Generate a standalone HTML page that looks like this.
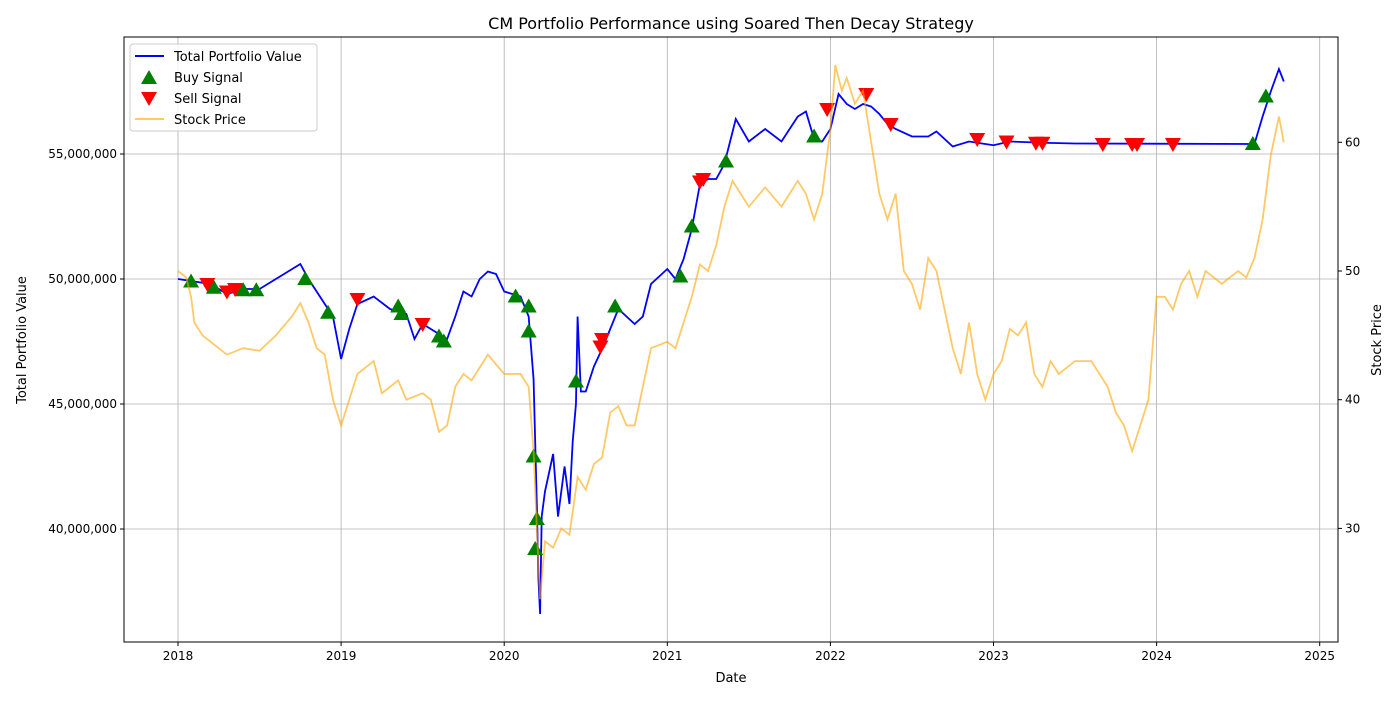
<!DOCTYPE html>
<html><head><meta charset="utf-8"><style>
body{margin:0;background:#fff;font-family:"DejaVu Sans","Liberation Sans",sans-serif}
svg text{font-family:"DejaVu Sans","Liberation Sans",sans-serif}
</style></head><body>
<svg id="chart" width="1400" height="700" xmlns="http://www.w3.org/2000/svg">
<text x="731" y="29" font-size="16" text-anchor="middle">CM Portfolio Performance using Soared Then Decay Strategy</text>
<g id="grid"></g><g id="series"></g><g id="axes"></g>
<text x="731" y="682" font-size="13" text-anchor="middle">Date</text>
<text transform="translate(26,340) rotate(-90)" font-size="13" text-anchor="middle">Total Portfolio Value</text>
<text transform="translate(1381,340) rotate(-90)" font-size="13" text-anchor="middle">Stock Price</text>
<g>
<rect x="130" y="44" width="187" height="87" rx="3" fill="#fff" fill-opacity="0.8" stroke="#ccc"/>
<line x1="135" y1="56" x2="164" y2="56" stroke="#0000ff" stroke-width="2"/>
<text x="174" y="61" font-size="13">Total Portfolio Value</text>
<path d="M149,70 L157,84 L141,84Z" fill="green"/>
<text x="174" y="82" font-size="13">Buy Signal</text>
<path d="M141,92 L157,92 L149,106Z" fill="red"/>
<text x="174" y="103" font-size="13">Sell Signal</text>
<line x1="135" y1="119" x2="164" y2="119" stroke="orange" stroke-opacity="0.6" stroke-width="2"/>
<text x="174" y="124" font-size="13">Stock Price</text>
</g>
</svg>
<script>
const pT=[2018.0,2018.1,2018.2,2018.3,2018.4,2018.5,2018.6,2018.7,2018.75,2018.8,2018.9,2018.95,2019.0,2019.05,2019.1,2019.2,2019.3,2019.4,2019.45,2019.5,2019.6,2019.65,2019.7,2019.75,2019.8,2019.85,2019.9,2019.95,2020.0,2020.05,2020.1,2020.15,2020.18,2020.2,2020.21,2020.22,2020.23,2020.25,2020.3,2020.33,2020.37,2020.4,2020.42,2020.44,2020.45,2020.47,2020.5,2020.55,2020.6,2020.65,2020.7,2020.8,2020.85,2020.9,2021.0,2021.05,2021.1,2021.15,2021.2,2021.25,2021.3,2021.35,2021.42,2021.5,2021.6,2021.7,2021.8,2021.85,2021.9,2021.95,2022.0,2022.05,2022.1,2022.15,2022.2,2022.25,2022.3,2022.35,2022.4,2022.5,2022.6,2022.65,2022.75,2022.85,2022.95,2023.0,2023.1,2023.3,2023.5,2024.6,2024.65,2024.7,2024.75,2024.78];
const pV=[50.0,49.9,49.8,49.4,49.6,49.6,50.0,50.4,50.6,50.0,49.0,48.5,46.8,48.0,49.0,49.3,48.8,48.6,47.6,48.2,47.8,47.6,48.5,49.5,49.3,50.0,50.3,50.2,49.5,49.4,49.3,48.5,46.0,41.0,38.0,36.6,40.5,41.5,43.0,40.5,42.5,41.0,43.5,45.0,48.5,45.5,45.5,46.5,47.2,48.0,48.8,48.2,48.5,49.8,50.4,50.0,50.8,52.0,53.8,54.0,54.0,54.6,56.4,55.5,56.0,55.5,56.5,56.7,55.6,55.5,56.0,57.4,57.0,56.8,57.0,56.9,56.6,56.2,56.0,55.7,55.7,55.9,55.3,55.5,55.4,55.35,55.5,55.45,55.42,55.4,56.5,57.5,58.4,57.9];
const sT=[2018.0,2018.05,2018.08,2018.1,2018.15,2018.2,2018.3,2018.4,2018.5,2018.6,2018.7,2018.75,2018.8,2018.85,2018.9,2018.95,2019.0,2019.05,2019.1,2019.2,2019.25,2019.35,2019.4,2019.5,2019.55,2019.6,2019.65,2019.7,2019.75,2019.8,2019.9,2020.0,2020.1,2020.15,2020.18,2020.2,2020.22,2020.25,2020.3,2020.35,2020.4,2020.45,2020.5,2020.55,2020.6,2020.65,2020.7,2020.75,2020.8,2020.85,2020.9,2021.0,2021.05,2021.1,2021.15,2021.2,2021.25,2021.3,2021.35,2021.4,2021.5,2021.6,2021.7,2021.8,2021.85,2021.9,2021.95,2022.0,2022.03,2022.07,2022.1,2022.15,2022.2,2022.25,2022.3,2022.35,2022.4,2022.45,2022.5,2022.55,2022.6,2022.65,2022.7,2022.75,2022.8,2022.85,2022.9,2022.95,2023.0,2023.05,2023.1,2023.15,2023.2,2023.25,2023.3,2023.35,2023.4,2023.5,2023.6,2023.7,2023.75,2023.8,2023.85,2023.9,2023.95,2024.0,2024.05,2024.1,2024.15,2024.2,2024.25,2024.3,2024.4,2024.5,2024.55,2024.6,2024.65,2024.7,2024.75,2024.78];
const sV=[50,49.5,48,46,45,44.5,43.5,44,43.8,45,46.5,47.5,46,44,43.5,40,38,40,42,43,40.5,41.5,40,40.5,40,37.5,38,41,42,41.5,43.5,42,42,41,36,30,24.5,29,28.5,30,29.5,34,33,35,35.5,39,39.5,38,38,41,44,44.5,44,46,48,50.5,50,52,55,57,55,56.5,55,57,56,54,56,61,66,64,65,63,64,60,56,54,56,50,49,47,51,50,47,44,42,46,42,40,42,43,45.5,45,46,42,41,43,42,43,43,41,39,38,36,38,40,48,48,47,49,50,48,50,49,50,49.5,51,54,59,62,60];
const buyT=[2018.08,2018.22,2018.4,2018.48,2018.78,2018.92,2019.35,2019.37,2019.6,2019.63,2020.07,2020.15,2020.15,2020.18,2020.2,2020.19,2020.44,2020.68,2021.08,2021.15,2021.36,2021.9,2024.59,2024.67];
const buyV=[49.9,49.65,49.55,49.55,50.0,48.65,48.9,48.6,47.7,47.5,49.3,48.9,47.9,42.9,40.4,39.2,45.9,48.9,50.1,52.1,54.7,55.7,55.4,57.3];
const sellT=[2018.18,2018.3,2018.35,2019.1,2019.5,2020.6,2020.59,2021.2,2021.22,2021.98,2022.22,2022.37,2022.9,2023.08,2023.26,2023.3,2023.67,2023.85,2023.88,2024.1];
const sellV=[49.8,49.5,49.6,49.2,48.2,47.6,47.3,53.9,54.0,56.8,57.4,56.2,55.6,55.5,55.45,55.45,55.4,55.4,55.4,55.4];
const xTicks=[2018,2019,2020,2021,2022,2023,2024,2025];
const yTicks=[40,45,50,55];
const yTickLabels=["40,000,000","45,000,000","50,000,000","55,000,000"];
const y2Ticks=[30,40,50,60];

const L=124,R=1338,T=37,B=642;
const x=t=>178+(t-2018)*163.1;
const y=v=>279-(v-50)*25;
const y2=v=>271-(v-50)*12.87;
const NS="http://www.w3.org/2000/svg";
function mk(tag,par,at){const e=document.createElementNS(NS,tag);for(const k in at)e.setAttribute(k,at[k]);document.getElementById(par).appendChild(e);return e;}
xTicks.forEach(t=>{const e=mk('line','grid',{x1:x(t),x2:x(t),y1:T,y2:B,stroke:'#b0b0b0','stroke-width':0.8});


mk('line','axes',{x1:x(t),x2:x(t),y1:B,y2:B+4,stroke:'#000'});
const tx=mk('text','axes',{x:x(t),y:B+18,'font-size':12,'text-anchor':'middle'});tx.textContent=t;

});
yTicks.forEach((v,i)=>{const e=mk('line','grid',{x1:L,x2:R,y1:y(v),y2:y(v),stroke:'#b0b0b0','stroke-width':0.8});


mk('line','axes',{x1:L-4,x2:L,y1:y(v),y2:y(v),stroke:'#000'});
const tx=mk('text','axes',{x:L-7,y:y(v)+4,'font-size':12,'text-anchor':'end'});tx.textContent=yTickLabels[i];

});
y2Ticks.forEach(v=>{mk('line','axes',{x1:R,x2:R+4,y1:y2(v),y2:y2(v),stroke:'#000'});
const tx=mk('text','axes',{x:R+7,y:y2(v)+4,'font-size':12});tx.textContent=v;

});
const fr=mk('rect','axes',{x:L,y:T,width:R-L,height:B-T,fill:'none',stroke:'#000','stroke-width':1});


const pl=mk('polyline','series',{points:pT.map((t,i)=>x(t)+','+y(pV[i])).join(' '),fill:'none',stroke:'#0000ff','stroke-width':1.8});


buyT.forEach((t,i)=>{const cx=x(t),cy=y(buyV[i]);const m=mk('path','series',{d:`M${cx},${cy-8} L${cx+8},${cy+6} L${cx-8},${cy+6}Z`,fill:'green'});

});
sellT.forEach((t,i)=>{const cx=x(t),cy=y(sellV[i]);const m=mk('path','series',{d:`M${cx-8},${cy-6} L${cx+8},${cy-6} L${cx},${cy+8}Z`,fill:'red'});

});
const sl=mk('polyline','series',{points:sT.map((t,i)=>x(t)+','+y2(sV[i])).join(' '),fill:'none',stroke:'orange','stroke-opacity':0.6,'stroke-width':1.8});


</script>
</body></html>
